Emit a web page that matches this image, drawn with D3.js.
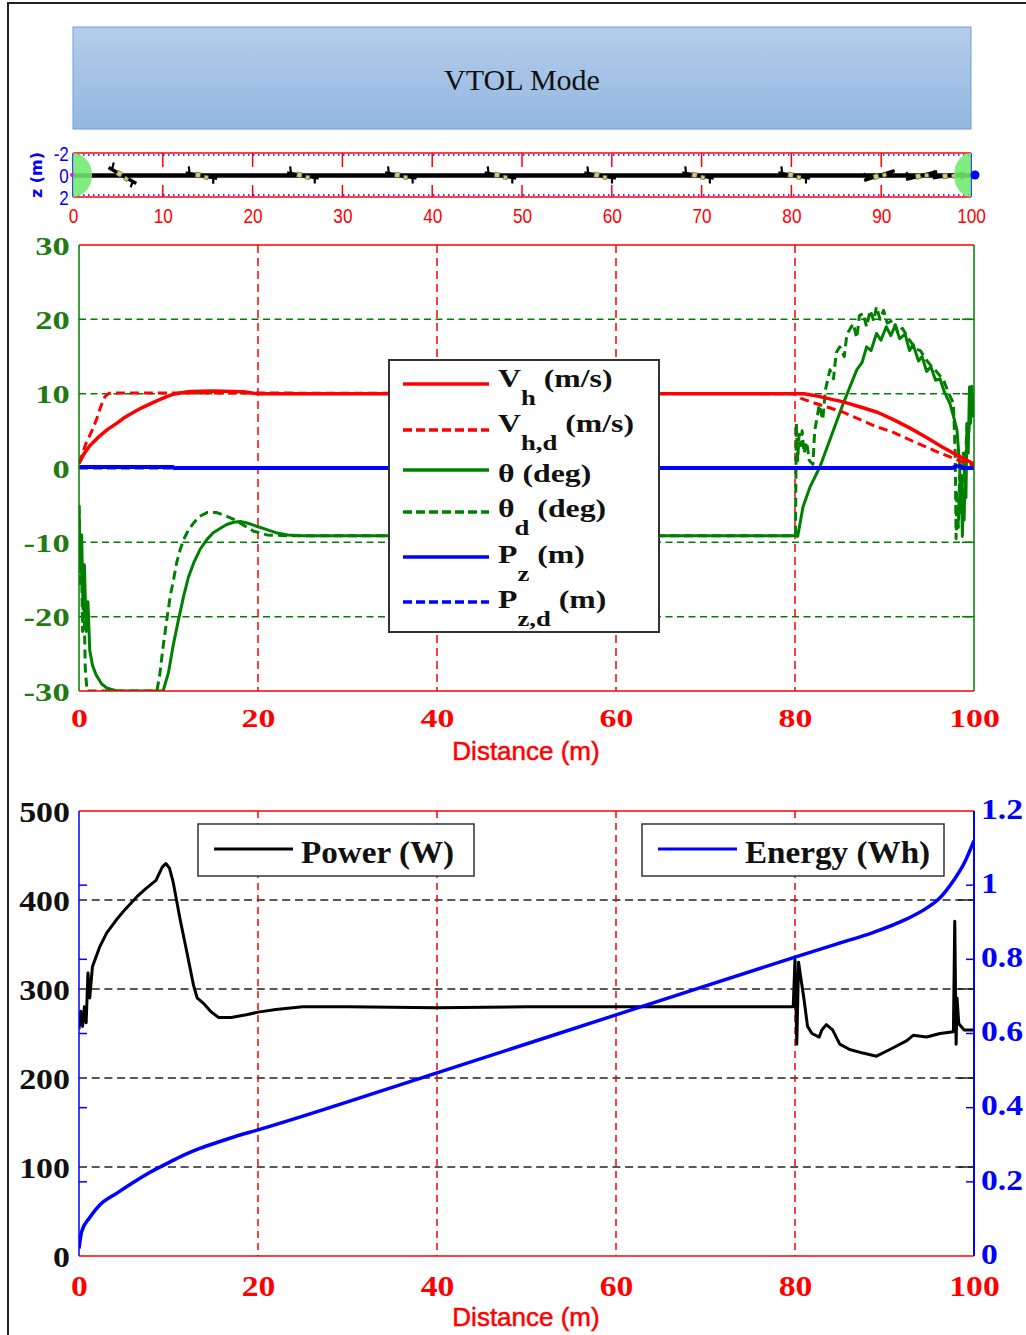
<!DOCTYPE html>
<html>
<head>
<meta charset="utf-8">
<script src="https://cdn.jsdelivr.net/npm/d3@7"></script>
<style>
  body { margin: 0; background: #fff; }
  svg { display: block; }
</style>
</head>
<body>
<svg id="fig" width="1026" height="1335"></svg>
<script>
// ---------------- data ----------------
const distanceTicks = [0, 20, 40, 60, 80, 100];
const stripTicks = [0, 10, 20, 30, 40, 50, 60, 70, 80, 90, 100];
const stripZTicks = [-2, 0, 2];
const stateTicks = [-30, -20, -10, 0, 10, 20, 30];
const powerTicks = [0, 100, 200, 300, 400, 500];
const energyTicks = [0, 0.2, 0.4, 0.6, 0.8, 1, 1.2];

// horizontal speed (m/s) vs distance (m)
const vh = [[0,0.6],[0.5,1.8],[1.2,3.0],[2.3,4.3],[3.2,5.2],[4.2,6.0],[5.1,6.8],[6.1,7.5],[7.0,8.1],[7.9,8.6],[8.8,9.1],[9.8,9.6],[10.5,9.9],[11.3,10.1],[12.4,10.3],[15,10.35],[18.4,10.25],[19.5,10.05],[20,10],[80,10],[81,10],[82,9.8],[83.5,9.4],[85.4,8.9],[87.3,8.2],[89.2,7.5],[91,6.5],[92.8,5.4],[94.7,4.1],[96.5,2.8],[98.3,1.6],[99.9,0.6],[100,0.3]];
const vhDes = [[0,0.6],[0.3,1.6],[0.8,3.4],[1.2,4.4],[1.6,5.4],[2.0,6.7],[2.3,7.8],[2.6,8.8],[2.9,9.6],[3.3,10],[3.6,10.1],[80,10],[80.2,9.8],[80.6,9.4],[82,8.8],[83.6,8.2],[85.4,7.5],[87.3,6.5],[89,5.6],[91,4.8],[92.8,3.8],[94.7,2.8],[96.2,2.0],[97.7,1.3],[99.5,0.5],[100,0.4]];

// pitch angle (deg)
const theta = [[0,-5],[0.15,-14],[0.3,-9],[0.45,-19],[0.6,-13],[0.8,-22],[1.0,-18],[1.2,-24.5],[1.5,-26.5],[1.9,-27.8],[2.5,-29],[3.1,-29.6],[4.2,-30],[9.4,-30],[10.0,-27.5],[10.5,-24],[11.1,-20.5],[11.7,-17.2],[12.2,-14.8],[12.8,-12.8],[13.5,-11],[14.3,-9.6],[15.0,-8.7],[15.8,-8.1],[16.5,-7.6],[17.3,-7.3],[18.0,-7.2],[18.8,-7.4],[20,-7.9],[21,-8.3],[22,-8.7],[23.3,-9.0],[25,-9.1],[80,-9.1],
  [80.3,-9.2],[80.9,-5.2],[81.7,-2.5],[82.8,0.2],[83.9,3.8],[85.4,8.7],[86.9,13.2],[87.5,14.2],[88,16.3],[88.5,15.8],[89.1,18.1],[89.6,17.2],[90.2,19.0],[90.7,17.8],[91.2,19.2],[91.7,17.4],[92.3,18.0],[92.8,15.8],[93.2,16.6],[93.8,14.4],[94.2,15.0],[94.7,13.0],[95.2,13.6],[95.7,11.8],[96.2,12.0],[96.7,10.2],[97.3,8.7],[97.7,7.0],[98.1,5.1],[98.4,0.2],[98.5,-6],[98.6,-2],[98.7,-9.2],[98.8,-3],[98.9,-7],[99.0,0],[99.1,-4],[99.2,5],[99.35,2],[99.5,10.9],[99.6,6],[99.75,11],[99.9,7],[100,9]];
const thetaDes = [[0,-5],[0.1,-16],[0.25,-10],[0.4,-22],[0.55,-17],[0.7,-27],[0.9,-30],[8.7,-30],[9.0,-28],[9.4,-24],[9.8,-20.5],[10.2,-17.2],[10.6,-14.8],[10.9,-12.8],[11.3,-11],[11.7,-9.6],[12.2,-8.4],[12.8,-7.4],[13.5,-6.5],[14.3,-6.0],[15.4,-6.0],[16.3,-6.4],[17.3,-6.9],[18.4,-7.7],[19.5,-8.5],[21,-9.0],[23,-9.1],[80,-9.1],
  [80.05,-9],[80.15,6],[80.3,1],[80.45,4.5],[80.6,3],[80.8,5],[81.0,2],[81.3,3.5],[81.6,1],[82,0.5],[82.2,5],[82.5,7],[82.7,8.5],[83.1,6.5],[83.4,10.5],[83.9,13.2],[84.3,12],[84.6,15.5],[85,16.3],[85.5,15],[85.8,18],[86.5,19.4],[86.9,17.5],[87.2,20.5],[87.6,20.8],[88,19],[88.4,21.2],[88.8,19.8],[89.1,21.7],[89.5,20],[89.9,21.2],[90.3,19.5],[91,19.9],[91.5,18.2],[92,18.8],[92.8,17.2],[93.5,16],[94,15.8],[94.7,14.5],[95.3,13.6],[95.8,13],[96.6,11.8],[97.2,10],[97.7,8.7],[97.9,2],[98.0,-9.5],[98.1,-3],[98.25,-8],[98.4,-1],[98.6,-6],[98.8,2],[99.0,-2],[99.2,6],[99.4,4],[99.6,10],[99.8,7],[100,10]];

// altitude error (m)
const pz = [[0,0.15],[10.5,0.15],[10.6,0],[97.6,0],[98,0.25],[98.5,0.25],[98.7,0],[100,0]];
const pzDes = [[0,0],[100,0]];

// electrical power (W) and cumulative energy (Wh)
const power = [[0,255],[0.2,275],[0.4,258],[0.6,280],[0.8,262],[1.0,318],[1.2,290],[1.5,325],[2.3,347],[3.1,363],[4.2,378],[5.2,390],[6.5,404],[7.5,413],[8.6,422],[9.3,437],[9.7,441],[10.1,436],[10.5,421],[11.3,378],[12.1,339],[12.8,304],[13.2,290],[14,283],[14.8,274],[15.6,268],[17,268],[18.7,271],[20,274],[22,277],[25,280],[30,280],[40,279],[50,280],[60,280],[70,280],[79.8,280],[80,333],[80.2,238],[80.4,330],[80.6,316],[81,289],[81.4,258],[81.9,250],[82.7,246],[83,254],[83.5,260],[84.2,254],[85,238],[86.1,232],[87.6,228],[89.1,224.5],[90.6,232],[92.5,242],[93.2,248],[94.7,246],[96.2,250],[97.7,252],[97.85,376],[98.0,238],[98.1,290],[98.3,261],[98.9,254],[100,254]];
const energy = [[0,0.02],[0.3,0.066],[1.2,0.104],[2.3,0.137],[4.2,0.169],[6.1,0.199],[7.9,0.225],[9.8,0.249],[11.7,0.272],[13.5,0.290],[15.4,0.306],[17.3,0.321],[20,0.340],[40,0.494],[60,0.650],[80,0.806],[85,0.844],[88.7,0.872],[92.5,0.909],[94.7,0.938],[96.2,0.966],[97.7,1.012],[98.9,1.059],[100,1.12]];

// flight path snapshot (distance, z) and vehicle snapshots along it
const pathZ = [[0,0.05],[100,0.05]];
const craftX = [5.5, 14.3, 25.6, 36.5, 47.6, 58.7, 69.6, 80.3, 89.8, 94.5, 97.5];

const legendRows = [
  { main: "V", sub: "h",   rest: "(m/s)", color: "#ff0000", dash: null },
  { main: "V", sub: "h,d", rest: "(m/s)", color: "#ff0000", dash: "9,4" },
  { main: "θ", sub: "",    rest: "(deg)", color: "#008000", dash: null },
  { main: "θ", sub: "d",   rest: "(deg)", color: "#008000", dash: "9,4" },
  { main: "P", sub: "z",   rest: "(m)",   color: "#0000ff", dash: null },
  { main: "P", sub: "z,d", rest: "(m)",   color: "#0000ff", dash: "9,4" }
];

// ---------------- helpers ----------------
const SERIF = "'Liberation Serif','Times New Roman',Times,serif";
const SANS = "'Liberation Sans',Arial,Helvetica,sans-serif";
const DEJAVU = "'DejaVu Sans',Verdana,sans-serif";
const RED = "#ff0000", GREEN = "#008000", BLUE = "#0000ff";
const plain = d => String(d);   // hyphen-minus, no trailing zeros

const svg = d3.select("#fig");
const defs = svg.append("defs");

function put(g, x, y, str, o) {
  return g.append("text")
    .attr("transform", `translate(${x},${y}) scale(${o.sx || 1},1)`)
    .attr("text-anchor", o.anchor || "start")
    .attr("font-family", o.family || SERIF)
    .attr("font-size", o.size)
    .attr("font-weight", o.weight || "normal")
    .attr("fill", o.fill || "#000")
    .text(str);
}

function interp(series, x) {
  for (let i = 1; i < series.length; i++) {
    if (x <= series[i][0]) {
      const [x0, y0] = series[i - 1], [x1, y1] = series[i];
      return y0 + (y1 - y0) * (x - x0) / (x1 - x0 || 1);
    }
  }
  return series[series.length - 1][1];
}

function styleTicks(axisG, o) {
  axisG.select(".domain").remove();
  axisG.selectAll(".tick line").remove();
  axisG.selectAll(".tick text")
    .attr("font-family", o.family || SERIF)
    .attr("font-size", o.size)
    .attr("font-weight", o.weight || "bold")
    .attr("fill", o.fill)
    .attr("x", o.x !== undefined ? o.x : null)
    .attr("y", o.y !== undefined ? o.y : null)
    .attr("dy", o.dy)
    .attr("transform", `scale(${o.sx || 1},1)`);
}

// ---------------- frame ----------------
svg.append("rect").attr("width", 1026).attr("height", 1335).attr("fill", "#fff");
svg.append("path").attr("d", "M8,1335V3H1026").attr("fill", "none")
  .attr("stroke", "#222").attr("stroke-width", 2);

// ---------------- mode banner ----------------
const grad = defs.append("linearGradient").attr("id", "bannerGrad")
  .attr("x1", 0).attr("y1", 0).attr("x2", 0).attr("y2", 1);
grad.append("stop").attr("offset", 0).attr("stop-color", "#b4cdea");
grad.append("stop").attr("offset", 1).attr("stop-color", "#93b7e1");
svg.append("rect").attr("x", 73).attr("y", 27).attr("width", 898).attr("height", 102)
  .attr("fill", "url(#bannerGrad)").attr("stroke", "#6f9fd6").attr("stroke-width", 1);
put(svg, 522, 90, "VTOL Mode", { size: 30, anchor: "middle", fill: "#111" });

// ---------------- flight path strip ----------------
const sX = d3.scaleLinear([0, 100], [73, 971]);
const sZ = d3.scaleLinear([-2, 2], [153, 197]);
const strip = svg.append("g");

strip.selectAll("line.grid").data(stripTicks.slice(1, -1)).join("line")
  .attr("x1", d => sX(d)).attr("x2", d => sX(d))
  .attr("y1", sZ(-2)).attr("y2", sZ(2))
  .attr("stroke", RED).attr("stroke-width", 1.5).attr("stroke-dasharray", "14,18");
[-1.82, 1.82].forEach(z => {
  strip.append("line").attr("x1", sX(0)).attr("x2", sX(100)).attr("y1", sZ(z)).attr("y2", sZ(z))
    .attr("stroke", BLUE).attr("stroke-width", 1.5).attr("stroke-dasharray", "1.5,3.5");
});
[-2, 2].forEach(z => {
  strip.append("line").attr("x1", sX(0)).attr("x2", sX(100)).attr("y1", sZ(z)).attr("y2", sZ(z))
    .attr("stroke", RED).attr("stroke-width", 1.5);
});
[0, 100].forEach(x => {
  strip.append("line").attr("x1", sX(x)).attr("x2", sX(x)).attr("y1", sZ(-2)).attr("y2", sZ(2))
    .attr("stroke", BLUE).attr("stroke-width", 1.5);
});

strip.append("path").datum(pathZ)
  .attr("d", d3.line().x(d => sX(d[0])).y(d => sZ(d[1])))
  .attr("fill", "none").attr("stroke", "#000").attr("stroke-width", 4.5);

const craft = strip.selectAll("g.craft").data(craftX).join("g")
  .attr("transform", d => `translate(${sX(d)},${sZ(0.05)}) rotate(${-interp(theta, d)})`);
craft.append("line").attr("x1", -16).attr("x2", 16).attr("y1", 0).attr("y2", 0)
  .attr("stroke", "#000").attr("stroke-width", 3.5);
craft.append("line").attr("x1", -12).attr("y1", 0).attr("x2", -14).attr("y2", -7)
  .attr("stroke", "#000").attr("stroke-width", 2.2);
craft.append("line").attr("x1", 12).attr("y1", 0).attr("x2", 13).attr("y2", 6)
  .attr("stroke", "#000").attr("stroke-width", 2.2);
craft.append("rect").attr("x", -6).attr("y", -2.5).attr("width", 5).attr("height", 5)
  .attr("fill", "#d2c97c").attr("stroke", "#5b5a28").attr("stroke-width", 0.6);
craft.append("rect").attr("x", 3).attr("y", -1).attr("width", 4).attr("height", 4)
  .attr("fill", "#d2c97c").attr("stroke", "#5b5a28").attr("stroke-width", 0.6);

strip.append("path").attr("d", `M${sX(0)},${sZ(-2)} A19,22 0 0,1 ${sX(0)},${sZ(2)} Z`)
  .attr("fill", "#70ea70").attr("opacity", 0.88);
strip.append("path").attr("d", `M${sX(100)},${sZ(-2)} A17,22 0 0,0 ${sX(100)},${sZ(2)} Z`)
  .attr("fill", "#70ea70").attr("opacity", 0.88);
strip.append("circle").attr("cx", sX(100) + 4).attr("cy", sZ(0)).attr("r", 4.5).attr("fill", BLUE);
strip.append("circle").attr("cx", sX(0) - 1).attr("cy", sZ(0)).attr("r", 2).attr("fill", "#e020e0");

const stripXAxis = strip.append("g").attr("transform", `translate(0,${sZ(2)})`)
  .call(d3.axisBottom(sX).tickValues(stripTicks).tickFormat(plain).tickSize(0));
styleTicks(stripXAxis, { family: SANS, size: 21, weight: "normal", fill: RED, sx: 0.82, y: 26, dy: 0 });
const stripZAxis = strip.append("g").attr("transform", `translate(${sX(0)},0)`)
  .call(d3.axisLeft(sZ).tickValues(stripZTicks).tickFormat(plain).tickSize(0));
styleTicks(stripZAxis, { family: SANS, size: 20, weight: "normal", fill: BLUE, sx: 0.85, x: -5, dy: "0.35em" });
strip.append("text").attr("transform", `translate(42,${sZ(0)}) rotate(-90)`)
  .attr("text-anchor", "middle").attr("font-family", DEJAVU).attr("font-weight", "bold")
  .attr("font-size", 16).attr("fill", BLUE).text("z (m)");

// ---------------- states chart ----------------
const mX = d3.scaleLinear([0, 100], [79, 974]);
const mY = d3.scaleLinear([-30, 30], [691, 245]);
const mid = svg.append("g");
defs.append("clipPath").attr("id", "clipMid").append("rect")
  .attr("x", 79).attr("y", 245).attr("width", 895).attr("height", 446);

mid.selectAll("line.hg").data([-20, -10, 10, 20]).join("line")
  .attr("x1", mX(0)).attr("x2", mX(100)).attr("y1", d => mY(d)).attr("y2", d => mY(d))
  .attr("stroke", GREEN).attr("stroke-width", 1.5).attr("stroke-dasharray", "7,4.5");
mid.selectAll("line.ht").data([-20, -10, 10, 20]).join("line")
  .attr("x1", mX(100) - 12).attr("x2", mX(100)).attr("y1", d => mY(d)).attr("y2", d => mY(d))
  .attr("stroke", GREEN).attr("stroke-width", 1.5);
mid.selectAll("line.vg").data([20, 40, 60, 80]).join("line")
  .attr("x1", d => mX(d)).attr("x2", d => mX(d)).attr("y1", mY(30)).attr("y2", mY(-30))
  .attr("stroke", RED).attr("stroke-width", 1.5).attr("stroke-dasharray", "8,5");

const midLine = d3.line().x(d => mX(d[0])).y(d => mY(d[1]));
const midSeries = [
  { data: theta, color: GREEN, dash: null, w: 3 },
  { data: thetaDes, color: GREEN, dash: "9,5", w: 3 },
  { data: vh, color: RED, dash: null, w: 3.5 },
  { data: vhDes, color: RED, dash: "9,5", w: 3 },
  { data: pzDes, color: BLUE, dash: "9,5", w: 3 },
  { data: pz, color: BLUE, dash: null, w: 4 }
];
const midPlot = mid.append("g").attr("clip-path", "url(#clipMid)");
midSeries.forEach(s => {
  midPlot.append("path").datum(s.data).attr("d", midLine)
    .attr("fill", "none").attr("stroke", s.color).attr("stroke-width", s.w)
    .attr("stroke-dasharray", s.dash).attr("stroke-linejoin", "round");
});

mid.append("line").attr("x1", mX(0)).attr("x2", mX(100)).attr("y1", mY(30)).attr("y2", mY(30)).attr("stroke", RED).attr("stroke-width", 1.5);
mid.append("line").attr("x1", mX(0)).attr("x2", mX(100)).attr("y1", mY(-30)).attr("y2", mY(-30)).attr("stroke", RED).attr("stroke-width", 1.5);
mid.append("line").attr("x1", mX(0)).attr("x2", mX(0)).attr("y1", mY(30)).attr("y2", mY(-30)).attr("stroke", GREEN).attr("stroke-width", 1.5);
mid.append("line").attr("x1", mX(100)).attr("x2", mX(100)).attr("y1", mY(30)).attr("y2", mY(-30)).attr("stroke", GREEN).attr("stroke-width", 1.5);

const midYAxis = mid.append("g").attr("transform", `translate(${mX(0)},0)`)
  .call(d3.axisLeft(mY).tickValues(stateTicks).tickFormat(plain).tickSize(0));
styleTicks(midYAxis, { size: 26, fill: "#237a12", sx: 1.33, x: -7, dy: "0.35em" });
const midXAxis = mid.append("g").attr("transform", `translate(0,${mY(-30)})`)
  .call(d3.axisBottom(mX).tickValues(distanceTicks).tickFormat(plain).tickSize(0));
styleTicks(midXAxis, { size: 26, fill: RED, sx: 1.3, y: 36, dy: 0 });
put(mid, 526, 760, "Distance (m)", { family: SANS, size: 26, anchor: "middle", fill: RED })
  .attr("stroke", RED).attr("stroke-width", 0.5);

// legend
const leg = mid.append("g");
leg.append("rect").attr("x", 389).attr("y", 360).attr("width", 270).attr("height", 272)
  .attr("fill", "#fff").attr("stroke", "#333").attr("stroke-width", 2);
const rowLineY = [384, 430, 470, 512, 557, 602];
const rowBase = [387, 432, 482, 517, 563, 608];
legendRows.forEach((r, i) => {
  leg.append("line").attr("x1", 403).attr("x2", 489).attr("y1", rowLineY[i]).attr("y2", rowLineY[i])
    .attr("stroke", r.color).attr("stroke-width", 3.5).attr("stroke-dasharray", r.dash);
  const t = leg.append("text")
    .attr("transform", `translate(498,${rowBase[i]}) scale(1.27,1)`)
    .attr("font-family", SERIF).attr("font-weight", "bold").attr("font-size", 25).attr("fill", "#111");
  t.append("tspan").text(r.main);
  if (r.sub) {
    t.append("tspan").attr("dy", 18).attr("font-size", 21).text(r.sub);
    t.append("tspan").attr("dy", -18).text(" " + r.rest);
  } else {
    t.append("tspan").text(" " + r.rest);
  }
});

// ---------------- power / energy chart ----------------
const bX = d3.scaleLinear([0, 100], [79, 974]);
const bP = d3.scaleLinear([0, 500], [1256, 811]);
const bE = d3.scaleLinear([0, 1.2], [1256, 811]);
const bot = svg.append("g");
defs.append("clipPath").attr("id", "clipBot").append("rect")
  .attr("x", 79).attr("y", 811).attr("width", 895).attr("height", 445);

bot.selectAll("line.hg").data([100, 200, 300, 400]).join("line")
  .attr("x1", bX(0)).attr("x2", bX(100)).attr("y1", d => bP(d)).attr("y2", d => bP(d))
  .attr("stroke", "#222").attr("stroke-width", 1.5).attr("stroke-dasharray", "8,4.7");
bot.selectAll("line.ht").data([100, 200, 300, 400]).join("line")
  .attr("x1", bX(100) - 16).attr("x2", bX(100)).attr("y1", d => bP(d)).attr("y2", d => bP(d))
  .attr("stroke", "#222").attr("stroke-width", 1.5);
bot.selectAll("line.vg").data([20, 40, 60, 80]).join("line")
  .attr("x1", d => bX(d)).attr("x2", d => bX(d)).attr("y1", bP(500)).attr("y2", bP(0))
  .attr("stroke", RED).attr("stroke-width", 1.5).attr("stroke-dasharray", "7,5");
// energy ticks on both vertical axes
[bX(0), bX(100) - 8].forEach(x0 => {
  bot.selectAll(null).data(energyTicks.slice(1, -1)).join("line")
    .attr("x1", x0).attr("x2", x0 + 8).attr("y1", d => bE(d)).attr("y2", d => bE(d))
    .attr("stroke", BLUE).attr("stroke-width", 1.5);
});

const botPlot = bot.append("g").attr("clip-path", "url(#clipBot)");
botPlot.append("path").datum(power)
  .attr("d", d3.line().x(d => bX(d[0])).y(d => bP(d[1])))
  .attr("fill", "none").attr("stroke", "#000").attr("stroke-width", 3).attr("stroke-linejoin", "round");
botPlot.append("path").datum(energy)
  .attr("d", d3.line().curve(d3.curveMonotoneX).x(d => bX(d[0])).y(d => bE(d[1])))
  .attr("fill", "none").attr("stroke", BLUE).attr("stroke-width", 3.5);

bot.append("line").attr("x1", bX(0)).attr("x2", bX(100)).attr("y1", bP(500)).attr("y2", bP(500)).attr("stroke", RED).attr("stroke-width", 1.5);
bot.append("line").attr("x1", bX(0)).attr("x2", bX(100)).attr("y1", bP(0)).attr("y2", bP(0)).attr("stroke", RED).attr("stroke-width", 1.5);
bot.append("line").attr("x1", bX(0)).attr("x2", bX(0)).attr("y1", bP(500)).attr("y2", bP(0)).attr("stroke", BLUE).attr("stroke-width", 1.5);
bot.append("line").attr("x1", bX(100)).attr("x2", bX(100)).attr("y1", bP(500)).attr("y2", bP(0)).attr("stroke", BLUE).attr("stroke-width", 2);

const botPAxis = bot.append("g").attr("transform", `translate(${bX(0)},0)`)
  .call(d3.axisLeft(bP).tickValues(powerTicks).tickFormat(plain).tickSize(0));
styleTicks(botPAxis, { size: 30, fill: "#111", sx: 1.13, x: -8, dy: "0.35em" });
const botEAxis = bot.append("g").attr("transform", `translate(${bX(100)},0)`)
  .call(d3.axisRight(bE).tickValues(energyTicks).tickFormat(plain).tickSize(0));
styleTicks(botEAxis, { size: 29, fill: BLUE, sx: 1.16, x: 6, dy: "0.25em" });
const botXAxis = bot.append("g").attr("transform", `translate(0,${bP(0)})`)
  .call(d3.axisBottom(bX).tickValues(distanceTicks).tickFormat(plain).tickSize(0));
styleTicks(botXAxis, { size: 29, fill: RED, sx: 1.16, y: 40, dy: 0 });
put(bot, 526, 1326, "Distance (m)", { family: SANS, size: 26, anchor: "middle", fill: RED })
  .attr("stroke", RED).attr("stroke-width", 0.5);

// legends
const botLegends = [
  { x: 198, w: 276, label: "Power (W)", color: "#000" },
  { x: 642, w: 302, label: "Energy (Wh)", color: BLUE }
];
botLegends.forEach(l => {
  bot.append("rect").attr("x", l.x).attr("y", 824).attr("width", l.w).attr("height", 52)
    .attr("fill", "#fff").attr("stroke", "#333").attr("stroke-width", 1.5);
  bot.append("line").attr("x1", l.x + 16).attr("x2", l.x + 95).attr("y1", 849).attr("y2", 849)
    .attr("stroke", l.color).attr("stroke-width", 3);
  put(bot, l.x + 103, 863, l.label, { size: 31, weight: "bold", fill: "#111", sx: 1.07 });
});
</script>
</body>
</html>
